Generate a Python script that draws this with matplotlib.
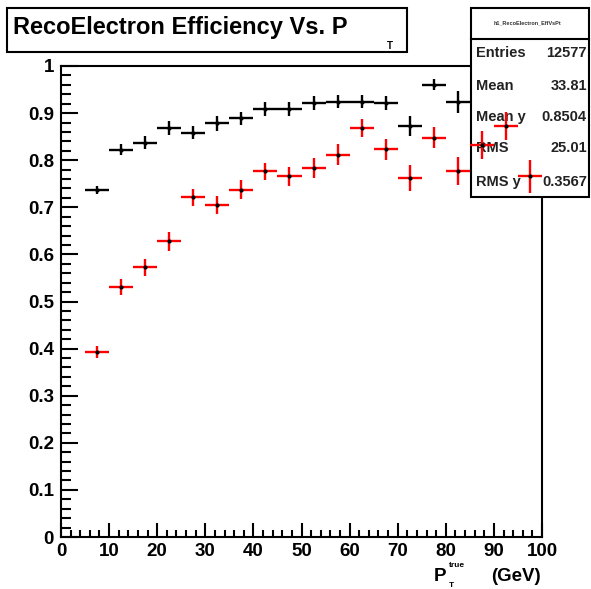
import matplotlib
matplotlib.use("Agg")
import matplotlib.pyplot as plt
from matplotlib.patches import Rectangle
from matplotlib.ticker import MultipleLocator
import numpy as np

# ---- data ----
bin_centers = [7.5, 12.5, 17.5, 22.5, 27.5, 32.5, 37.5, 42.5, 47.5, 52.5,
               57.5, 62.5, 67.5, 72.5, 77.5, 82.5, 87.5, 92.5, 97.5]
bin_half_width = 2.5
black_eff = [0.737, 0.822, 0.837, 0.868, 0.858, 0.878, 0.889, 0.909, 0.909, 0.921,
             0.924, 0.924, 0.921, 0.873, 0.960, 0.924, 0.93, 0.93, 0.94]
black_err = [0.008, 0.012, 0.014, 0.015, 0.014, 0.016, 0.014, 0.015, 0.015, 0.015,
             0.014, 0.014, 0.015, 0.021, 0.012, 0.023, 0.02, 0.02, 0.02]
red_eff = [0.393, 0.531, 0.573, 0.628, 0.721, 0.705, 0.737, 0.777, 0.766, 0.783,
           0.812, 0.869, 0.823, 0.762, 0.848, 0.777, 0.832, 0.873, 0.766]
red_err = [0.013, 0.017, 0.018, 0.020, 0.018, 0.020, 0.020, 0.018, 0.020, 0.021,
           0.022, 0.019, 0.023, 0.028, 0.023, 0.029, 0.029, 0.030, 0.035]

title_text = "RecoElectron Efficiency Vs. P"
stats_name = "h1_RecoElectron_EffVsPt"
stats_labels = ["Entries", "Mean", "Mean y", "RMS", "RMS y"]
stats_values = ["12577", "33.81", "0.8504", "25.01", "0.3567"]

W, H = 591, 589
FONT = "Liberation Sans"

fig = plt.figure(figsize=(W / 100, H / 100), dpi=100)
fig.patch.set_facecolor("white")

def fx(x):
    return x / W

def fy(y):
    return 1 - y / H

ax_l, ax_r, ax_t, ax_b = 61, 542, 66, 537
ax = fig.add_axes([fx(ax_l), fy(ax_b), (ax_r - ax_l) / W, (ax_b - ax_t) / H])
ax.set_xlim(0, 100)
ax.set_ylim(0, 1)

for s in ax.spines.values():
    s.set_linewidth(1.5)
    s.set_color("black")

ax.xaxis.set_major_locator(MultipleLocator(10))
ax.xaxis.set_minor_locator(MultipleLocator(2))
ax.yaxis.set_major_locator(MultipleLocator(0.1))
ax.yaxis.set_minor_locator(MultipleLocator(0.02))
ax.tick_params(axis="x", which="major", direction="in", length=10, width=1.5,
               pad=4, labelsize=13.5)
ax.tick_params(axis="x", which="minor", direction="in", length=5, width=1.5)
ax.tick_params(axis="y", which="major", direction="in", length=12, width=1.5,
               pad=5, labelsize=13.5)
ax.tick_params(axis="y", which="minor", direction="in", length=7, width=1.5)
ax.tick_params(top=False, right=False, which="both")

ax.set_yticks(np.round(np.arange(0, 1.01, 0.1), 1))
ax.set_yticklabels(["0", "0.1", "0.2", "0.3", "0.4", "0.5", "0.6", "0.7", "0.8", "0.9", "1"])
ax.set_xticks(np.arange(0, 101, 10))
ax.set_xticklabels([str(v) for v in range(0, 101, 10)])
for lab in ax.get_xticklabels() + ax.get_yticklabels():
    lab.set_fontfamily(FONT)
    lab.set_fontweight("bold")

# black histogram (drawn under the stats box)
ax.errorbar(bin_centers, black_eff, xerr=bin_half_width, yerr=black_err,
            fmt="o", color="black", ecolor="black", markersize=2, elinewidth=1.7,
            capsize=0, zorder=2, clip_on=False)

# stats box (in figure pixel coords, drawn inside the axes for layering)
sb_l, sb_r, sb_t, sb_b, sb_div = 471, 589, 8, 197, 39
box = Rectangle((fx(sb_l), fy(sb_b)), (sb_r - sb_l) / W, (sb_b - sb_t) / H,
                transform=fig.transFigure, facecolor="white", edgecolor="black",
                linewidth=1.5, zorder=3, clip_on=False)
ax.add_patch(box)
ax.plot([fx(sb_l), fx(sb_r)], [fy(sb_div), fy(sb_div)], transform=fig.transFigure,
        color="black", linewidth=1.5, zorder=3.1, clip_on=False)
ax.text(fx(527), fy(23), stats_name, transform=fig.transFigure, ha="center",
        va="center", fontsize=4, fontfamily=FONT, fontweight="bold",
        color="#333333", zorder=3.2, clip_on=False)
rows_y = [53, 86, 117, 148, 182]
for lbl, val, ry in zip(stats_labels, stats_values, rows_y):
    ax.text(fx(476), fy(ry), lbl, transform=fig.transFigure, ha="left", va="center",
            fontsize=10.5, fontfamily=FONT, fontweight="bold", color="#222222",
            zorder=3.2, clip_on=False)
    ax.text(fx(587), fy(ry), val, transform=fig.transFigure, ha="right", va="center",
            fontsize=10.5, fontfamily=FONT, fontweight="bold", color="#222222",
            zorder=3.2, clip_on=False)

# red histogram (drawn over the stats box)
ax.errorbar(bin_centers, red_eff, xerr=bin_half_width, yerr=red_err,
            fmt="o", color="black", ecolor="#ff0000", markersize=2, elinewidth=1.7,
            capsize=0, zorder=4, clip_on=False)

# title box
tb_l, tb_r, tb_t, tb_b = 7, 407, 8, 52
fig.patches.append(Rectangle((fx(tb_l), fy(tb_b)), (tb_r - tb_l) / W, (tb_b - tb_t) / H,
                             transform=fig.transFigure, facecolor="white",
                             edgecolor="black", linewidth=1.5, zorder=5))
fig.text(fx(13), fy(34), title_text, ha="left", va="baseline", fontsize=17,
         fontfamily=FONT, fontweight="bold", zorder=6)
fig.text(fx(390), fy(46), "T", ha="center", va="center", fontsize=7,
         fontfamily=FONT, fontweight="bold", zorder=6)

# x-axis label: P_T^true (GeV)
fig.text(fx(434), fy(581), "P", ha="left", va="baseline", fontsize=13.5,
         fontfamily=FONT, fontweight="bold")
fig.text(fx(449), fy(567), "true", ha="left", va="baseline", fontsize=6,
         fontfamily=FONT, fontweight="bold")
fig.text(fx(449), fy(587), "T", ha="left", va="baseline", fontsize=6,
         fontfamily=FONT, fontweight="bold")
fig.text(fx(541), fy(581), "(GeV)", ha="right", va="baseline", fontsize=13.5,
         fontfamily=FONT, fontweight="bold")

fig.savefig("out.png", dpi=100)
